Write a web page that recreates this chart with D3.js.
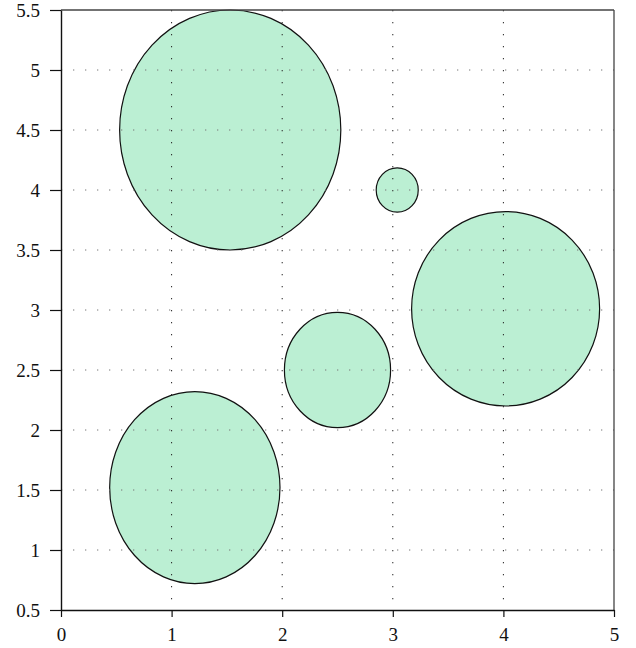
<!DOCTYPE html>
<html>
<head>
<meta charset="utf-8">
<script src="https://cdn.jsdelivr.net/npm/d3@7"></script>
<style>
  html, body { margin: 0; padding: 0; background: #fff; }
  svg { display: block; }
</style>
</head>
<body>
<svg id="chart" width="636" height="648"></svg>
<script>
// Bubble centres and radii, in data units
const centerX = [1.53, 1.21, 2.50, 3.04, 4.02];
const centerY = [4.50, 1.52, 2.50, 4.00, 3.01];
const radiusX = [1.00, 0.77, 0.48, 0.19, 0.85];
const radiusY = [1.00, 0.80, 0.48, 0.185, 0.81];

// Axis ticks
const xTicks = [0, 1, 2, 3, 4, 5];
const xTickLabels = ["0", "1", "2", "3", "4", "5"];
const yTicks = [0.5, 1, 1.5, 2, 2.5, 3, 3.5, 4, 4.5, 5, 5.5];
const yTickLabels = ["0.5", "1", "1.5", "2", "2.5", "3", "3.5", "4", "4.5", "5", "5.5"];
const xGrid = [1, 2, 3, 4];
const yGrid = [1, 1.5, 2, 2.5, 3, 3.5, 4, 4.5, 5];

const width = 636, height = 648;
const margin = { top: 10, right: 22, bottom: 38, left: 61 };
const labelFont = "'Liberation Serif', 'Times New Roman', serif";

const svg = d3.select("#chart");

const x = d3.scaleLinear().domain([0, 5]).range([margin.left, width - margin.right]);
const y = d3.scaleLinear().domain([0.5, 5.5]).range([height - margin.bottom, margin.top]);

const bubbles = centerX.map((cx, i) => ({ cx, cy: centerY[i], rx: radiusX[i], ry: radiusY[i] }));

// Bubbles
svg.append("g")
  .selectAll("ellipse")
  .data(bubbles)
  .join("ellipse")
  .attr("cx", d => x(d.cx))
  .attr("cy", d => y(d.cy))
  .attr("rx", d => x(d.cx + d.rx) - x(d.cx))
  .attr("ry", d => y(d.cy - d.ry) - y(d.cy))
  .attr("fill", "#bbefd3")
  .attr("stroke", "#111")
  .attr("stroke-width", 1.2);

// Dotted grid
svg.append("g")
  .selectAll("line")
  .data(yGrid)
  .join("line")
  .attr("x1", x(0)).attr("x2", x(5))
  .attr("y1", d => y(d)).attr("y2", d => y(d))
  .attr("stroke", "#777")
  .attr("stroke-width", 1)
  .attr("stroke-dasharray", "1.3,10.7");

svg.append("g")
  .selectAll("line")
  .data(xGrid)
  .join("line")
  .attr("x1", d => x(d)).attr("x2", d => x(d))
  .attr("y1", y(5.5)).attr("y2", y(0.5))
  .attr("stroke", "#222")
  .attr("stroke-width", 1)
  .attr("stroke-dasharray", "1.3,10.7");

// Frame on top and right
svg.append("line")
  .attr("x1", x(0)).attr("x2", x(5))
  .attr("y1", y(5.5)).attr("y2", y(5.5))
  .attr("stroke", "#444").attr("stroke-width", 1.3);
svg.append("line")
  .attr("x1", x(5)).attr("x2", x(5))
  .attr("y1", y(5.5)).attr("y2", y(0.5))
  .attr("stroke", "#444").attr("stroke-width", 1.3);

// Axes
const xAxis = d3.axisBottom(x)
  .tickValues(xTicks)
  .tickFormat((d, i) => xTickLabels[i])
  .tickSize(7)
  .tickSizeOuter(0)
  .tickPadding(11);

const yAxis = d3.axisLeft(y)
  .tickValues(yTicks)
  .tickFormat((d, i) => yTickLabels[i])
  .tickSize(11)
  .tickSizeOuter(0)
  .tickPadding(10);

const gx = svg.append("g")
  .attr("transform", `translate(0,${y(0.5)})`)
  .call(xAxis);
const gy = svg.append("g")
  .attr("transform", `translate(${x(0)},0)`)
  .call(yAxis);

[gx, gy].forEach(g => {
  g.attr("font-family", null).attr("font-size", null);
  g.selectAll(".tick text")
    .style("font-family", labelFont)
    .style("font-size", "19px")
    .attr("fill", "#111");
  g.select(".domain").attr("stroke", "#111").attr("stroke-width", 1.4);
  g.selectAll(".tick line").attr("stroke", "#111").attr("stroke-width", 1.2);
});
</script>
</body>
</html>
